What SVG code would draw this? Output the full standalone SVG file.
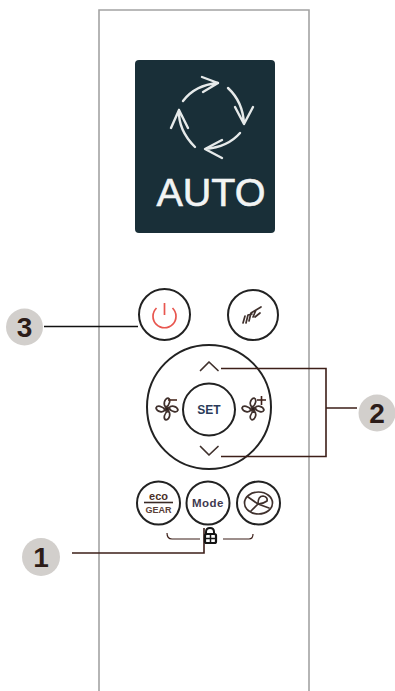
<svg xmlns="http://www.w3.org/2000/svg" width="395" height="691" viewBox="0 0 395 691">
<style>
.btn{fill:#fff;stroke:#222;stroke-width:2}
.badge{fill:#d2cfcc}
.num{font-family:"Liberation Sans",Arial,sans-serif;font-weight:700;font-size:28px;fill:#2c1c18;text-anchor:middle}
.lead{fill:none;stroke:#3d1f18;stroke-width:1.6}
.arrow{fill:none;stroke:#e6eaea;stroke-width:2.4;stroke-linecap:round;stroke-linejoin:round}
.glyph{fill:none;stroke:#3f302c;stroke-width:1.7;stroke-linecap:round;stroke-linejoin:round}
.lab{font-family:"Liberation Sans",Arial,sans-serif;font-weight:700;text-anchor:middle}
</style>
<defs>
<g id="fan" class="glyph">
<path d="M-1,-2C-4,-4-3,-10 1,-11C4,-10 3,-4-1,-2Z"/>
<path d="M2,-1C4,-4 10,-3 11,1C10,4 4,3 2,-1Z"/>
<path d="M1,2C4,4 3,10-1,11C-4,10-3,4 1,2Z"/>
<path d="M-2,1C-4,4-10,3-11,-1C-10,-4-4,-3-2,1Z"/>
<circle r="2" fill="#2a1d1a"/>
</g>
</defs>
<g id="panel"><path d="M99,691V10H309V691" fill="none" stroke="#a3a3a3" stroke-width="1.6"/></g>
<g id="display">
<rect x="135" y="60" width="140" height="173" rx="4" fill="#192f38"/>
<path class="arrow" d="M183,101Q195,85 218,83M202,77L218,83L203,92"/>
<path class="arrow" d="M228,88Q243,102 244,124M235,107L244,124L253,107"/>
<path class="arrow" d="M240,133Q228,147 205,149M222,140L205,149L222,158"/>
<path class="arrow" d="M195,147Q178,130 179,110M171,128L179,110L188,128"/>
<text x="211" y="206" font-family="'Liberation Sans',Arial,sans-serif" font-size="39.5" fill="#f2f4f4" stroke="#f2f4f4" stroke-width="0.6" text-anchor="middle">AUTO</text>
</g>
<g id="btn-power">
<circle class="btn" cx="164.500" cy="314.500" r="25.500"/>
<path d="M156.500,308A11.500,11.500 0 1 0 172.500,308M164.500,303V315" fill="none" stroke="#e8564f" stroke-width="1.700"/>
</g>
<g id="btn-swing">
<circle class="btn" cx="253" cy="315" r="25"/>
<path class="glyph" stroke-width="1.300" d="M243,323L245,316M246,323L248,315L252,314M249,321L251,313L256,310M253,317L256,310L261,307M255,317L260,313"/>
</g>
<g id="dial">
<circle class="btn" cx="209" cy="407" r="62"/>
<path class="glyph" stroke="#6a4c40" d="M200.500,370.500L209,362L218,370.500M200.500,446.500L209,455L218,446.500"/>
<use href="#fan" transform="translate(167,409)"/>
<path d="M168,400H177" stroke="#4a2a20" stroke-width="1.600"/>
<use href="#fan" transform="translate(253,409)"/>
<path d="M257,400H266M261.500,396V405" stroke="#3d1f18" stroke-width="1.600"/>
</g>
<g id="btn-set">
<circle class="btn" cx="209" cy="409.500" r="26"/>
<text class="lab" x="209" y="414" font-size="12" fill="#2a3a58">SET</text>
</g>
<g id="btn-eco">
<circle class="btn" cx="158.500" cy="503" r="21.500"/>
<text class="lab" x="158.500" y="500" font-size="11" fill="#4a3028">eco</text>
<path d="M144,502.500H173" stroke="#3a2a26" stroke-width="1.600"/>
<text class="lab" x="158.500" y="513" font-size="9" fill="#5a4038">GEAR</text>
</g>
<g id="btn-mode">
<circle class="btn" cx="208" cy="503" r="21.500"/>
<text class="lab" x="208" y="507" font-size="11.500" fill="#3f3a50" letter-spacing="0.500">Mode</text>
</g>
<g id="btn-clean">
<circle class="btn" cx="258.500" cy="503" r="21.500"/>
<ellipse class="glyph" cx="258.500" cy="503" rx="14" ry="11" stroke="#7a6660" stroke-width="1.300"/>
<path class="glyph" stroke-width="1.300" d="M248,497L258,504L251,511M258,504L269,508M258,504Q258,496 263,496Q268,497 267,501Q263,504 258,504" stroke="#7a6660"/>
</g>
<g id="connectors">
<path class="lead" style="stroke:#111" d="M44,326.500H138"/>
<path class="lead" d="M221,368.500H326V456.500H221M326,408H357"/>
<path class="lead" d="M72,553H204V528"/>
<path class="lead" style="stroke-width:1.200" d="M167,533Q167,539 172,539H200M223,539H249Q253,539 253,534"/>
</g>
<g id="lock">
<path d="M206,534V532Q206,528 210,528Q214,528 214,532V534" fill="none" stroke="#151515" stroke-width="2"/>
<rect x="205" y="534" width="11" height="9" rx="1.500" fill="none" stroke="#151515" stroke-width="2.200"/>
<path d="M210.500,534V543M205,538.500H216" stroke="#151515" stroke-width="1.500"/>
</g>
<g id="badge-3"><circle class="badge" cx="24.500" cy="327" r="18.500"/><text class="num" x="24.500" y="337">3</text></g>
<g id="badge-2"><circle class="badge" cx="377" cy="413" r="18.500"/><text class="num" x="377" y="423">2</text></g>
<g id="badge-1"><circle class="badge" cx="41" cy="557" r="19"/><text class="num" x="41" y="567">1</text></g>
</svg>
